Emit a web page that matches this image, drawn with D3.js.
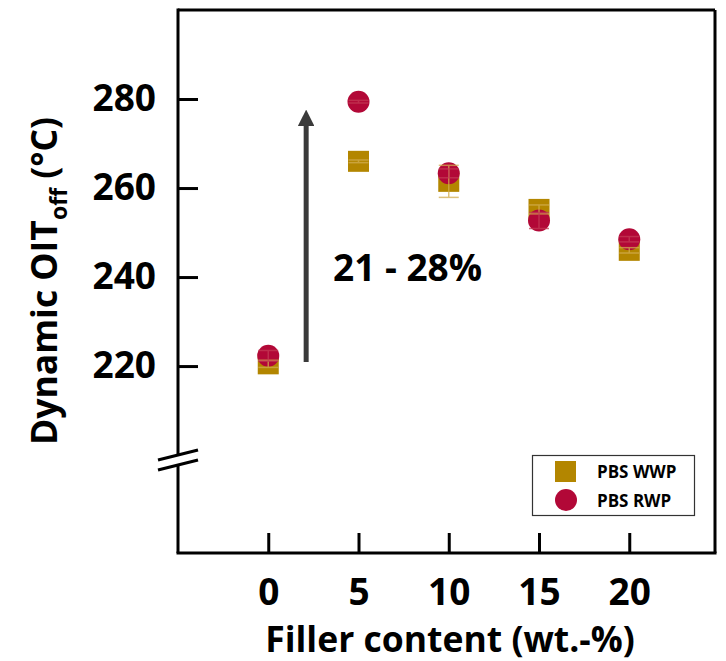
<!DOCTYPE html>
<html>
<head>
<meta charset="utf-8">
<script src="https://cdn.jsdelivr.net/npm/d3@7"></script>
<style>
  html, body { margin: 0; padding: 0; background: #fff; }
  svg { display: block; }
  text { font-family: "Open Sans", Lato, sans-serif; font-weight: 700; fill: #000; }
</style>
</head>
<body>
<svg id="chart" width="726" height="661"></svg>
<script>
// ---- data ----
const fillerContent = [0, 5, 10, 15, 20];
const wwpValues = [220.5, 266.0, 261.5, 255.2, 246.0];
const wwpErrors = [0.8, 0.3, 3.6, 1.0, 0.6];
const rwpValues = [222.3, 279.4, 263.3, 252.7, 248.5];
const rwpErrors = [1.2, 0.3, 1.0, 1.8, 0.6];
const yTickValues = [220, 240, 260, 280];
const xTickValues = [0, 5, 10, 15, 20];
const seriesNames = ["PBS WWP", "PBS RWP"];
const arrowX = 2.1, arrowFrom = 220.9, arrowTo = 277.3;
const annotationText = "21 - 28%";
const axisBreakValue = 198.9;

// ---- layout ----
const FONT = "'Open Sans', Lato, sans-serif";
const svg = d3.select("#chart");
const mLeft = 178, mRight = 715, mTop = 10, mBottom = 553;
const x = d3.scaleLinear().domain([-5, 24.75]).range([mLeft, mRight]);
const y = d3.scaleLinear().domain([178, 300]).range([mBottom, mTop]);

const gold = "#b38600", red = "#b20837";

// frame
const frame = svg.append("g").attr("stroke", "#000").attr("stroke-width", 3).attr("fill", "none");
const yb = y(axisBreakValue);
frame.append("line").attr("x1", mLeft).attr("x2", mRight).attr("y1", mTop).attr("y2", mTop);
frame.append("line").attr("x1", mRight).attr("x2", mRight).attr("y1", mTop).attr("y2", mBottom);
frame.append("line").attr("x1", mLeft - 1.5).attr("x2", mRight + 1.5).attr("y1", mBottom).attr("y2", mBottom);
frame.append("line").attr("x1", mLeft).attr("x2", mLeft).attr("y1", mTop - 1.5).attr("y2", yb - 5);
frame.append("line").attr("x1", mLeft).attr("x2", mLeft).attr("y1", yb + 5).attr("y2", mBottom);
// break marks
[-5, 5].forEach(o => {
  frame.append("line")
    .attr("x1", mLeft - 20).attr("y1", yb + o + 5)
    .attr("x2", mLeft + 20).attr("y2", yb + o - 5);
});

// y axis (ticks inward)
const yAxis = d3.axisLeft(y).tickValues(yTickValues).tickSize(0).tickPadding(22);
const gy = svg.append("g").attr("transform", `translate(${mLeft},0)`).call(yAxis);
gy.select(".domain").remove();
gy.selectAll("text").attr("font-size", 37).attr("font-family", FONT).attr("font-weight", 700).attr("fill", "#000");
gy.selectAll(".tick").append("line").attr("x1", 0).attr("x2", 20).attr("stroke", "#000").attr("stroke-width", 3);

// x axis (ticks inward)
const xAxis = d3.axisBottom(x).tickValues(xTickValues).tickSize(0).tickPadding(26);
const gx = svg.append("g").attr("transform", `translate(0,${mBottom})`).call(xAxis);
gx.select(".domain").remove();
gx.selectAll("text").attr("font-size", 37).attr("font-family", FONT).attr("font-weight", 700).attr("fill", "#000");
gx.selectAll(".tick").append("line").attr("y1", 0).attr("y2", -20).attr("stroke", "#000").attr("stroke-width", 3);

// axis titles
svg.append("text").attr("x", 450).attr("y", 652).attr("text-anchor", "middle")
  .attr("font-size", 35.5).text("Filler content (wt.-%)");

const yt = svg.append("text").attr("transform", "translate(57,281) rotate(-90)")
  .attr("text-anchor", "middle").attr("font-size", 35.5);
yt.append("tspan").text("Dynamic OIT");
yt.append("tspan").attr("font-size", 23).attr("dy", 10).text("off");
yt.append("tspan").attr("dy", -10).text(" (°C)");

// annotation arrow
svg.append("defs").append("marker").attr("id", "head")
  .attr("viewBox", "0 0 10 10").attr("refX", 0).attr("refY", 5)
  .attr("markerWidth", 3.3).attr("markerHeight", 3.3).attr("orient", "auto")
  .append("path").attr("d", "M0,0 L10,5 L0,10 z").attr("fill", "#3a3a3a");
svg.append("line")
  .attr("x1", x(arrowX)).attr("x2", x(arrowX))
  .attr("y1", y(arrowFrom)).attr("y2", y(arrowTo) + 15)
  .attr("stroke", "#3a3a3a").attr("stroke-width", 5)
  .attr("marker-end", "url(#head)");

svg.append("text").attr("x", 333).attr("y", 281).attr("font-size", 37).text(annotationText);

// data
const wwp = fillerContent.map((c, i) => ({ c, v: wwpValues[i], e: wwpErrors[i] }));
const rwp = fillerContent.map((c, i) => ({ c, v: rwpValues[i], e: rwpErrors[i] }));
const sq = 21, cr = 11;

svg.append("g").selectAll("rect").data(wwp).join("rect")
  .attr("x", d => x(d.c) - sq / 2).attr("y", d => y(d.v) - sq / 2)
  .attr("width", sq).attr("height", sq).attr("fill", gold);
svg.append("g").selectAll("circle").data(rwp).join("circle")
  .attr("cx", d => x(d.c)).attr("cy", d => y(d.v)).attr("r", cr).attr("fill", red);

function errorBars(data, color) {
  const g = svg.append("g").attr("stroke", color).attr("stroke-width", 1.5).attr("opacity", 0.75);
  data.forEach(d => {
    const cx = x(d.c), y0 = y(d.v - d.e), y1 = y(d.v + d.e);
    g.append("line").attr("x1", cx).attr("x2", cx).attr("y1", y0).attr("y2", y1);
    g.append("line").attr("x1", cx - 10).attr("x2", cx + 10).attr("y1", y0).attr("y2", y0);
    g.append("line").attr("x1", cx - 10).attr("x2", cx + 10).attr("y1", y1).attr("y2", y1);
  });
}
errorBars(wwp, "#d2ad4f");
errorBars(rwp, "#c43a55");

// legend
const lg = svg.append("g");
lg.append("rect").attr("x", 532.5).attr("y", 455.5).attr("width", 162).attr("height", 60)
  .attr("fill", "#fff").attr("stroke", "#333").attr("stroke-width", 1.2);
lg.append("rect").attr("x", 555).attr("y", 461).attr("width", 21).attr("height", 21).attr("fill", gold);
lg.append("circle").attr("cx", 566).attr("cy", 500).attr("r", 11).attr("fill", red);
lg.append("text").attr("x", 597).attr("y", 478).attr("font-size", 17).text(seriesNames[0]);
lg.append("text").attr("x", 597).attr("y", 507).attr("font-size", 17).text(seriesNames[1]);
</script>
</body>
</html>
